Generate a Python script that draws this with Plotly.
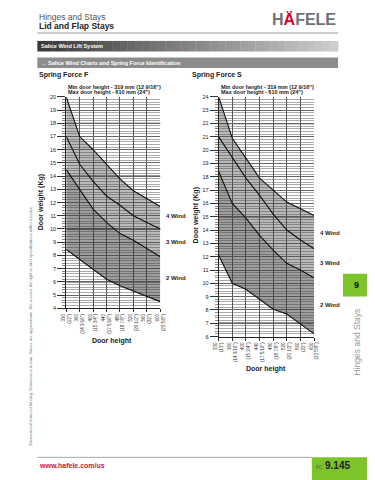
import plotly.graph_objects as go

# ---------------- data ----------------
heights_mm = [330, 360, 400, 440, 480, 520, 560, 600]
heights_in = ['13"', '14 3/16"', '15 3/4"', '17 5/16"', '18 7/8"', '20 1/2"', '22"', '23 5/8"']
tick_labels = [f"{m}<br>({i})" for m, i in zip(heights_mm, heights_in)]

# Spring Force F (door weight, kg)
f_line0 = [8.45, 7.7, 7.0, 6.2, 5.7, 5.3, 4.9, 4.5]
f_line2 = [14.5, 13.0, 11.5, 10.5, 9.65, 9.15, 8.5, 7.9]
f_line3 = [17.0, 14.9, 13.6, 12.5, 11.8, 11.0, 10.5, 10.0]
f_line4 = [20.0, 17.0, 16.0, 14.9, 13.8, 12.9, 12.3, 11.7]

# Spring Force S (door weight, kg)
s_line0 = [12.1, 10.0, 9.55, 8.8, 8.05, 7.7, 6.95, 6.2]
s_line2 = [18.4, 16.0, 14.9, 13.6, 12.5, 11.5, 11.0, 10.4]
s_line3 = [21.0, 19.45, 17.9, 16.6, 15.2, 14.0, 13.25, 12.6]
s_line4 = [24.0, 20.9, 19.4, 17.9, 17.0, 16.1, 15.6, 15.1]

wind_labels = ["2 Wind", "3 Wind", "4 Wind"]

W, H = 375, 480
OFF = 8  # page body margin in the browser
def X(px): return (px - OFF) / W
def Y(py): return 1 - (py - OFF) / H

fig = go.Figure()

def add_chart(xa, ya, l0, l2, l3, l4):
    line = dict(color="#111111", width=1.1)
    fig.add_trace(go.Scatter(x=tick_labels, y=l0, mode="lines", line=line,
                             xaxis=xa, yaxis=ya, showlegend=False, hoverinfo="skip"))
    fig.add_trace(go.Scatter(x=tick_labels, y=l2, mode="lines", line=line, fill="tonexty",
                             fillcolor="rgba(60,60,60,0.50)",
                             xaxis=xa, yaxis=ya, showlegend=False, hoverinfo="skip"))
    fig.add_trace(go.Scatter(x=tick_labels, y=l3, mode="lines", line=line, fill="tonexty",
                             fillcolor="rgba(70,70,70,0.38)",
                             xaxis=xa, yaxis=ya, showlegend=False, hoverinfo="skip"))
    fig.add_trace(go.Scatter(x=tick_labels, y=l4, mode="lines", line=line, fill="tonexty",
                             fillcolor="rgba(70,70,70,0.38)",
                             xaxis=xa, yaxis=ya, showlegend=False, hoverinfo="skip"))

add_chart("x", "y", f_line0, f_line2, f_line3, f_line4)
add_chart("x2", "y2", s_line0, s_line2, s_line3, s_line4)

tickfont = dict(family="Liberation Sans, Arial", size=4.5, color="#333")
xcommon = dict(type="category", range=[0, 7], tickangle=-90, tickfont=tickfont,
               showgrid=True, gridcolor="#555", gridwidth=0.7,
               showline=True, linecolor="#222", linewidth=1,
               ticks="outside", ticklen=3, tickcolor="#333", tickwidth=0.7,
               zeroline=False, fixedrange=True)
ycommon = dict(dtick=1, tickfont=dict(family="Liberation Sans, Arial", size=5.5, color="#222"),
               showgrid=True, gridcolor="#666", gridwidth=0.6,
               showline=True, linecolor="#222", linewidth=1,
               ticks="outside", ticklen=8, tickcolor="#333", tickwidth=0.8,
               minor=dict(dtick=0.2, showgrid=True, gridcolor="#aaa", gridwidth=0.4,
                          ticks="outside", ticklen=3, tickcolor="#888", tickwidth=0.4),
               zeroline=False, fixedrange=True)

fig.update_layout(
    width=W, height=H, autosize=False,
    margin=dict(l=0, r=0, t=0, b=0),
    paper_bgcolor="white", plot_bgcolor="white",
    font=dict(family="Liberation Sans, Arial", color="#222"),
    xaxis=dict(domain=[X(62.7), X(159.3)], anchor="y", **xcommon),
    yaxis=dict(domain=[Y(309), Y(95)], anchor="x", range=[4, 20], **ycommon),
    xaxis2=dict(domain=[X(219.3), X(317.3)], anchor="y2", **xcommon),
    yaxis2=dict(domain=[Y(337.7), Y(95)], anchor="x2", range=[6, 24], **ycommon),
)

shapes = []
# emphasized horizontal lines
for v in [18, 14, 10, 6]:
    shapes.append(dict(type="line", xref="x domain", yref="y", x0=0, x1=1, y0=v, y1=v,
                       line=dict(color="#333", width=1.3), layer="below"))
for v in [22, 15, 7]:
    shapes.append(dict(type="line", xref="x2 domain", yref="y2", x0=0, x1=1, y0=v, y1=v,
                       line=dict(color="#333", width=1.3), layer="below"))

# header line
shapes.append(dict(type="line", xref="paper", yref="paper", x0=X(33), x1=X(342), y0=Y(30.3), y1=Y(30.3),
                   line=dict(color="#999", width=1)))
# gradient bar
n = 40
x0, x1 = 33, 342
for i in range(n):
    t = i / (n - 1)
    c = int(58 + t * (205 - 58))
    shapes.append(dict(type="rect", xref="paper", yref="paper",
                       x0=X(x0 + (x1 - x0) * i / n), x1=X(x0 + (x1 - x0) * (i + 1) / n + 0.3),
                       y0=Y(49), y1=Y(38.3), line=dict(width=0), fillcolor=f"rgb({c},{c},{c})"))
# second bar
shapes.append(dict(type="rect", xref="paper", yref="paper", x0=X(33), x1=X(342), y0=Y(65.7), y1=Y(55),
                   line=dict(width=0), fillcolor="#8c8c8c"))
# bottom line
shapes.append(dict(type="line", xref="paper", yref="paper", x0=X(33), x1=X(315), y0=Y(460), y1=Y(460),
                   line=dict(color="#aaa", width=1)))
# green boxes
shapes.append(dict(type="rect", xref="paper", yref="paper", x0=X(315), x1=X(390), y0=Y(490), y1=Y(460),
                   line=dict(width=0), fillcolor="#7dc42a"))
shapes.append(dict(type="rect", xref="paper", yref="paper", x0=X(347), x1=X(390), y0=Y(297), y1=Y(274),
                   line=dict(width=0), fillcolor="#7dc42a"))
fig.update_layout(shapes=shapes)

ann = []
def txt(px, py, text, size, color="#222", bold=False, xanchor="left", angle=0, yanchor="middle"):
    t = f"<b>{text}</b>" if bold else text
    ann.append(dict(xref="paper", yref="paper", x=X(px), y=Y(py), text=t, showarrow=False,
                    xanchor=xanchor, yanchor=yanchor, textangle=angle,
                    font=dict(family="Liberation Sans, Arial", size=size, color=color)))

txt(32.5, 14.5, "Hinges and Stays", 8.5, "#555")
txt(32.5, 23.5, "Lid and Flap Stays", 8.5, "#222", bold=True)
ann.append(dict(xref="paper", yref="paper", x=X(342), y=Y(16.5), xanchor="right", yanchor="middle",
                showarrow=False,
                text="<b><span style='color:#707173'>H</span><span style='color:#e2001a'>Ä</span>"
                     "<span style='color:#707173'>FELE</span></b>",
                font=dict(family="Liberation Sans, Arial", size=16)))
txt(35, 43.8, "Salice Wind Lift System", 5.5, "white", bold=True)
txt(35, 60.5, "→ Salice Wind Charts and Spring Force Identification", 5.5, "white", bold=True)
txt(33, 73, "Spring Force F", 7, "#222", bold=True)
txt(190, 73, "Spring Force S", 7, "#222", bold=True)
for x0p in (62.7, 219.3):
    txt(x0p, 84.5, "Min door height - 319 mm (12 9/16\")", 5.5, "#222", bold=True)
    txt(x0p, 90.5, "Max door height - 610 mm (24\")", 5.5, "#222", bold=True)
txt(36.5, 202, "Door weight (Kg)", 7, "#222", bold=True, xanchor="center", angle=-90)
txt(196, 215, "Door weight (Kg)", 7, "#222", bold=True, xanchor="center", angle=-90)
txt(110, 342.5, "Door height", 7, "#222", bold=True, xanchor="center")
txt(268, 370.5, "Door height", 7, "#222", bold=True, xanchor="center")

# wind labels
for ref, ys in (("y", [6.3, 9.0, 11.0]), ("y2", [8.4, 11.5, 13.8])):
    xr = "x domain" if ref == "y" else "x2 domain"
    for lab, yv in zip(wind_labels, ys):
        ann.append(dict(xref=xr, yref=ref, x=1.04, y=yv, text=f"<b>{lab}</b>", showarrow=False,
                        xanchor="left", yanchor="middle",
                        font=dict(family="Liberation Sans, Arial", size=6, color="#222")))

txt(25, 327, "Dimensional data not binding. Dimensions in mm. Values are approximate. "
             "We reserve the right to alter specifications without notice.",
    4.1, "#777", xanchor="center", angle=-90)
txt(33, 468.5, "www.hafele.com/us", 7, "#c8143c", bold=True)
txt(317, 469.5, "FC", 5, "#555")
txt(326, 468, "9.145", 10, "#222", bold=True)
txt(361, 285.5, "9", 9, "#111", bold=True, xanchor="center")
txt(361, 343, "Hinges and Stays", 8.5, "#999", xanchor="center", angle=-90)

fig.update_layout(annotations=ann)
fig.write_html("out.html")
